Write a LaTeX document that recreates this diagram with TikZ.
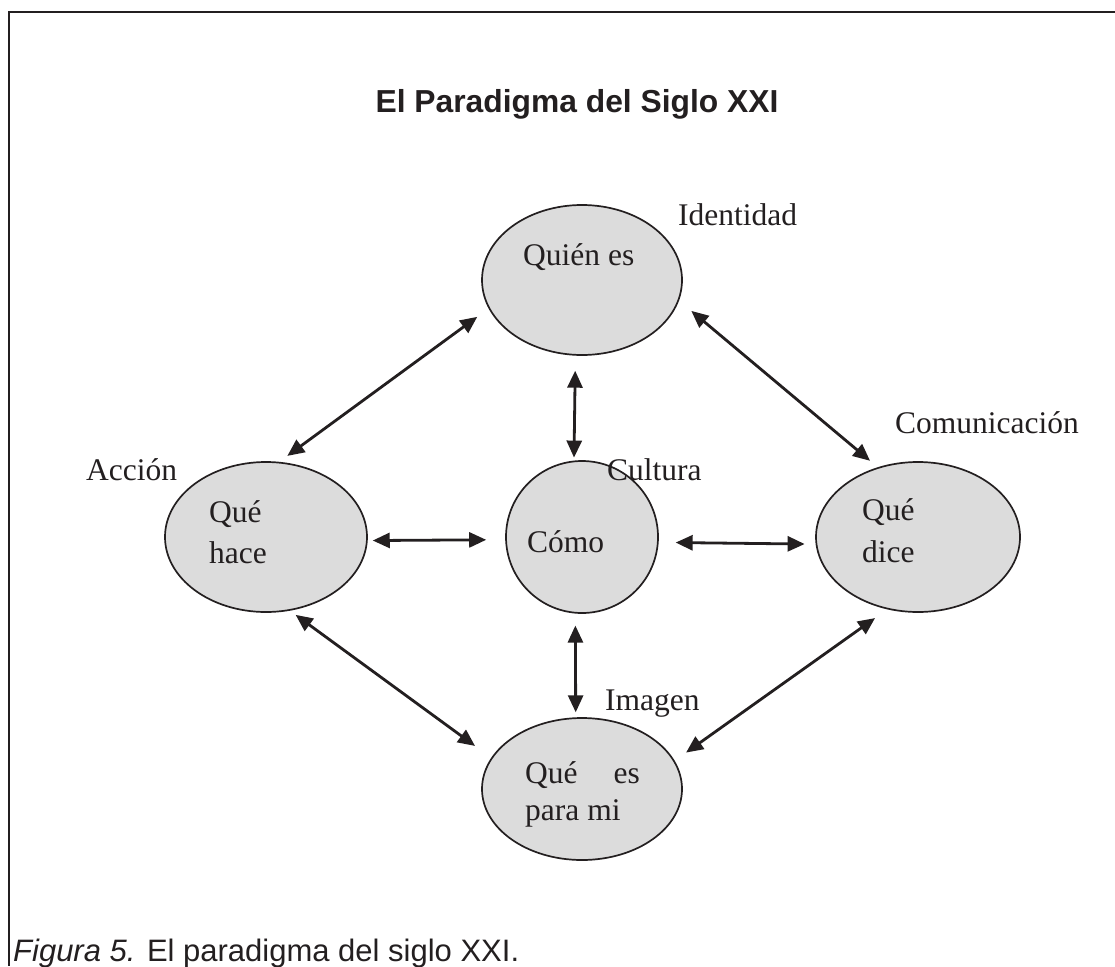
\documentclass[tikz,border=0pt]{standalone}
\usepackage{fontspec}
\setmainfont{Liberation Serif}
\newfontfamily\arialf{Liberation Sans}
\usetikzlibrary{arrows.meta,shapes.geometric}
\definecolor{ellgray}{HTML}{DCDCDC}
\definecolor{inkk}{HTML}{231F20}
\tikzset{
  ar/.style={<->,>={Triangle[length=17pt,width=15pt]},line width=2.8pt,inkk},
  ell/.style={ellipse,draw=inkk,line width=1.7pt,fill=ellgray,inner sep=0pt},
  txt/.style={anchor=base west,inner sep=0pt,text=inkk,font=\fontsize{31.5}{38}\selectfont}
}

\begin{document}
\begin{tikzpicture}[x=1pt,y=-1pt]
\useasboundingbox (0,0) rectangle (1115,966);
\draw[line width=2pt,inkk] (1115,12)--(9,12)--(9,966);
\node[anchor=base,inner sep=0pt,text=inkk,font=\arialf\bfseries\fontsize{31.8}{38}\selectfont] (titulo) at (577,112) {El Paradigma del Siglo XXI};
\node[ell,minimum width=200pt,minimum height=150pt] (quien) at (582,280) {};
\node[ell,minimum width=202pt,minimum height=150pt] (hace) at (266,537) {};
\node[ell,minimum width=152pt,minimum height=152pt] (como) at (582,537) {};
\node[ell,minimum width=204pt,minimum height=150pt] (dice) at (918,537) {};
\node[ell,minimum width=200pt,minimum height=142pt] (para) at (582,789) {};
\node[txt] (quien-t) at (523,265) {Quién es};
\node[txt] (ident) at (678,225) {Identidad};
\node[txt] (hace-a) at (209,522) {Qué};
\node[txt] (hace-b) at (209,563) {hace};
\node[txt] (accion) at (86,480) {Acción};
\node[txt] (como-t) at (527,552) {Cómo};
\node[txt] (cultura) at (607,480) {Cultura};
\node[txt] (dice-a) at (862,520) {Qué};
\node[txt] (dice-b) at (862,562) {dice};
\node[txt] (comunic) at (895,433) {Comunicación};
\node[txt] (para-a) at (525,783) {Qué\hspace{36pt}es};
\node[txt] (para-b) at (525,820) {para mi};
\node[txt] (imagen) at (605,710) {Imagen};
\draw[ar,shorten <=14pt,shorten >=10pt] (quien.197)--(hace.80);
\draw[ar,shorten <=16pt,shorten >=10pt] (quien.348)--(dice.120);
\draw[ar,shorten <=15pt,shorten >=3pt] (quien.265)--(como.96);
\draw[ar,shorten <=5pt,shorten >=19pt] (hace.358)--(como.182);
\draw[ar,shorten <=17pt,shorten >=11pt] (como.356)--(dice.184);
\draw[ar,shorten <=12pt,shorten >=5pt] (como.265)--(para.95);
\draw[ar,shorten <=7pt,shorten >=20pt] (hace.288)--(para.161);
\draw[ar,shorten <=15pt,shorten >=14pt] (dice.247)--(para.17);
\node[anchor=base west,inner sep=0pt,text=inkk,font=\arialf\fontsize{31}{38}\selectfont] (pie) at (13,961) {{\itshape Figura 5.} El paradigma del siglo XXI.};
\end{tikzpicture}
\end{document}
